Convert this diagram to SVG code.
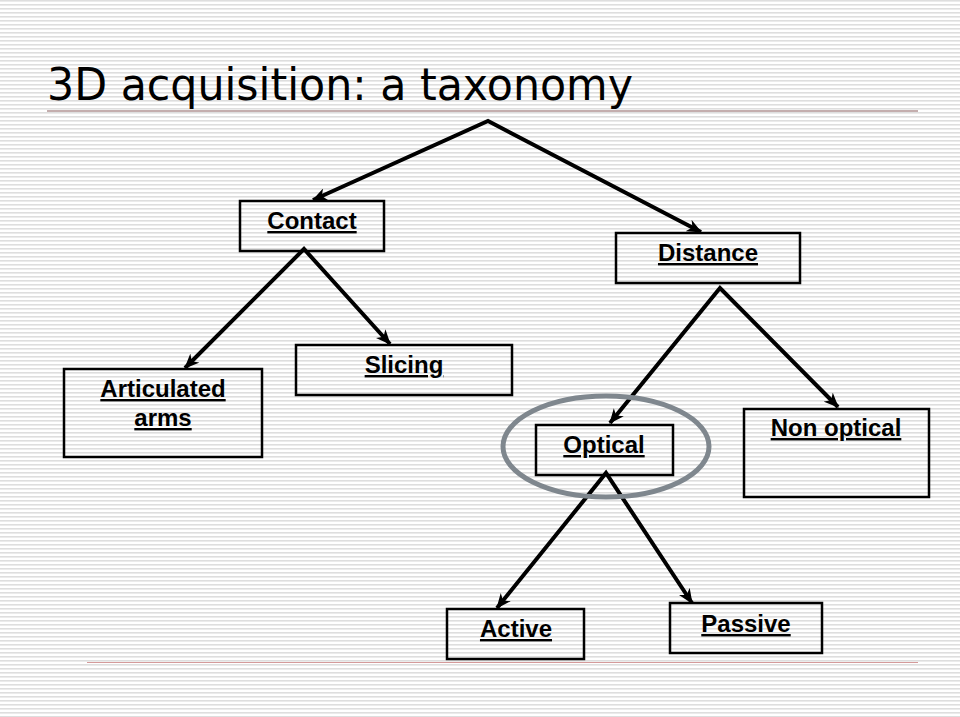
<svg xmlns="http://www.w3.org/2000/svg" width="960" height="717" viewBox="0 0 960 717">
<defs>
<pattern id="stripes" width="8" height="4" patternUnits="userSpaceOnUse">
<rect width="8" height="4" fill="#ffffff"/>
<rect y="0" width="8" height="1.6" fill="#dedede"/>
</pattern>
<marker id="arr" viewBox="0 0 14 12" refX="13" refY="6" markerWidth="15" markerHeight="13" markerUnits="userSpaceOnUse" orient="auto-start-reverse">
<path d="M0,0 L14,6 L0,12 L4,6 Z" fill="#000"/>
</marker>
<style>
.box{fill:none;stroke:#000;stroke-width:2.5}
.lbl{font-family:"Liberation Sans",Arial,sans-serif;font-weight:bold;font-size:24px;fill:#000;text-anchor:middle;text-decoration:underline}
.con{stroke:#000;stroke-width:4;fill:none;stroke-linejoin:miter}
</style>
</defs>
<rect width="960" height="717" fill="url(#stripes)"/>
<g id="title">
<text x="47" y="100" font-family="DejaVu Sans, Verdana, sans-serif" font-size="44" fill="#000" textLength="586" lengthAdjust="spacingAndGlyphs">3D acquisition: a taxonomy</text>
<line x1="47" y1="111" x2="918" y2="111" stroke="#c4aeae" stroke-width="2"/>
<line x1="87" y1="662.5" x2="918" y2="662.5" stroke="#d49a9a" stroke-width="1.2"/>
</g>
<g id="connectors">
<path class="con" d="M313,200 L488,121 L701,232" marker-start="url(#arr)" marker-end="url(#arr)"/>
<path class="con" d="M185,368 L304,249 L390,344" marker-start="url(#arr)" marker-end="url(#arr)"/>
<path class="con" d="M610,423 L720,288 L838,407" marker-start="url(#arr)" marker-end="url(#arr)"/>
<path class="con" d="M497,608 L606,473 L692,603" marker-start="url(#arr)" marker-end="url(#arr)"/>
</g>
<g id="contact">
<rect class="box" x="240" y="201" width="144" height="50"/>
<text class="lbl" x="312" y="229">Contact</text>
</g>
<g id="distance">
<rect class="box" x="616" y="233" width="184" height="50"/>
<text class="lbl" x="708" y="261">Distance</text>
</g>
<g id="articulated">
<rect class="box" x="64" y="369" width="198" height="88"/>
<text class="lbl" x="163" y="397">Articulated</text>
<text class="lbl" x="163" y="426">arms</text>
</g>
<g id="slicing">
<rect class="box" x="296" y="345" width="216" height="50"/>
<text class="lbl" x="404" y="373">Slicing</text>
</g>
<g id="optical">
<rect class="box" x="536" y="425" width="137" height="50"/>
<text class="lbl" x="604" y="453">Optical</text>
<ellipse cx="606" cy="446.5" rx="103" ry="50.5" fill="none" stroke="#7f878e" stroke-width="5"/>
</g>
<g id="nonoptical">
<rect class="box" x="744" y="409" width="185" height="88"/>
<text class="lbl" x="836" y="436">Non optical</text>
</g>
<g id="active">
<rect class="box" x="447" y="609" width="137" height="50"/>
<text class="lbl" x="516" y="637">Active</text>
</g>
<g id="passive">
<rect class="box" x="670" y="603" width="152" height="50"/>
<text class="lbl" x="746" y="632">Passive</text>
</g>
</svg>
